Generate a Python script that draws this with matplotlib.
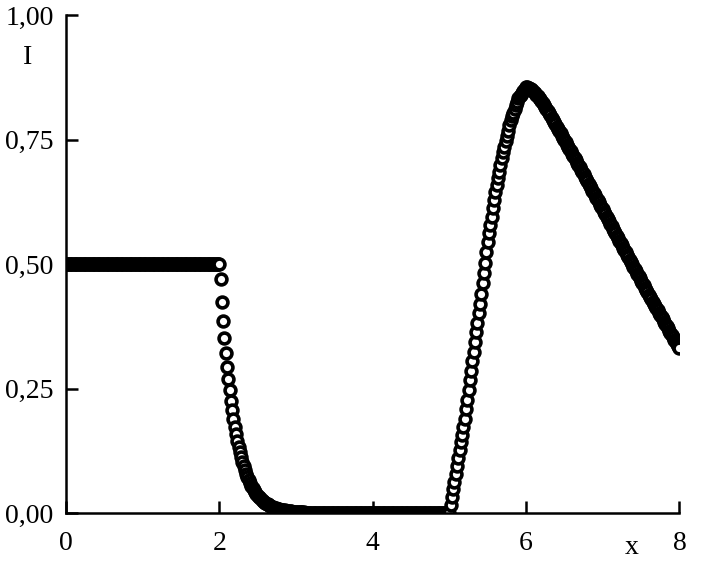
import numpy as np
import matplotlib
matplotlib.use("Agg")
from matplotlib import pyplot as plt

plt.rcParams['font.family'] = ['Liberation Serif', 'DejaVu Serif']
plt.rcParams['font.size'] = 20

# grid of the computed solution, step 1/60 on [0, 8]
x = np.arange(481) / 60.0

# x = 0 .. 2 : constant level
y_plateau = [0.50] * 121

# x = 2 + 1/60 .. 3.1 : fast decay
y_drop = [
    0.470, 0.425, 0.386, 0.351, 0.322, 0.294, 0.270, 0.247, 0.226, 0.207,
    0.189, 0.173, 0.159, 0.145, 0.133, 0.122, 0.112, 0.102, 0.094, 0.086,
    0.078, 0.072, 0.066, 0.060, 0.055, 0.050, 0.046, 0.042, 0.039, 0.035,
    0.032, 0.030, 0.027, 0.025, 0.023, 0.021, 0.019, 0.018, 0.016, 0.015,
    0.013, 0.012, 0.011, 0.010, 0.009, 0.009, 0.008, 0.007, 0.007, 0.006,
    0.006, 0.005, 0.005, 0.004, 0.004, 0.004, 0.003, 0.003, 0.003, 0.003,
    0.002, 0.002, 0.002, 0.002, 0.002, 0.002,
]

# x = 3.1 .. 5 : zero
y_zero = [0.0] * 114

# x = 5 + 1/60 .. 6 : rise to the peak
y_rise = [
    0.016, 0.032, 0.048, 0.063, 0.079, 0.095, 0.111, 0.127, 0.143, 0.158,
    0.174, 0.190, 0.209, 0.228, 0.247, 0.267, 0.286, 0.305, 0.324, 0.343,
    0.363, 0.382, 0.401, 0.420, 0.441, 0.462, 0.483, 0.503, 0.524, 0.545,
    0.562, 0.578, 0.595, 0.612, 0.628, 0.645, 0.658, 0.672, 0.685, 0.698,
    0.712, 0.725, 0.736, 0.747, 0.758, 0.768, 0.779, 0.790, 0.797, 0.804,
    0.811, 0.819, 0.826, 0.833, 0.837, 0.840, 0.844, 0.848, 0.851, 0.855,
]

# x = 6 + 1/60 .. 8 : fall after the peak
y_fall = [
    0.855, 0.854, 0.852, 0.851, 0.849, 0.846,
    0.843, 0.840, 0.837, 0.834, 0.831, 0.828,
    0.824, 0.820, 0.816, 0.811, 0.807, 0.803,
    0.799, 0.794, 0.790, 0.785, 0.781, 0.776,
    0.772, 0.767, 0.763, 0.758, 0.754, 0.749,
    0.745, 0.740, 0.736, 0.731, 0.727, 0.722,
    0.717, 0.713, 0.708, 0.703, 0.699, 0.694,
    0.689, 0.685, 0.680, 0.675, 0.671, 0.666,
    0.661, 0.657, 0.652, 0.647, 0.643, 0.638,
    0.633, 0.629, 0.624, 0.619, 0.615, 0.610,
    0.605, 0.600, 0.595, 0.591, 0.586, 0.581,
    0.576, 0.571, 0.566, 0.562, 0.557, 0.552,
    0.547, 0.543, 0.538, 0.533, 0.529, 0.524,
    0.519, 0.514, 0.509, 0.505, 0.500, 0.495,
    0.490, 0.486, 0.481, 0.476, 0.472, 0.467,
    0.462, 0.458, 0.453, 0.448, 0.444, 0.439,
    0.434, 0.430, 0.425, 0.420, 0.416, 0.411,
    0.407, 0.402, 0.398, 0.393, 0.389, 0.384,
    0.380, 0.375, 0.371, 0.366, 0.362, 0.357,
    0.353, 0.348, 0.344, 0.340, 0.335, 0.331,
]

y = np.array(y_plateau + y_drop + y_zero + y_rise + y_fall)

x_ticks = [0, 2, 4, 6, 8]
x_ticklabels = ['0', '2', '4', '6', '8']
y_ticks = [0.0, 0.25, 0.5, 0.75, 1.0]
y_ticklabels = ['0,00', '0,25', '0,50', '0,75', '1,00']

fig = plt.figure(figsize=(7.08, 5.63), dpi=100)
ax = fig.add_axes([0.0932, 0.0883, 0.8664, 0.8851])

ax.plot(x, y, 'o', markerfacecolor='white', markeredgecolor='black',
        markersize=7.8, markeredgewidth=2.6, linestyle='none')

ax.set_xlim(0, 8)
ax.set_ylim(0, 1)
ax.set_xticks(x_ticks)
ax.set_xticklabels(x_ticklabels)
ax.set_yticks(y_ticks)
ax.set_yticklabels(y_ticklabels)

for s in ['top', 'right']:
    ax.spines[s].set_visible(False)
for s in ['left', 'bottom']:
    ax.spines[s].set_linewidth(1.8)

ax.tick_params(axis='both', direction='in', length=8.5, width=1.8)
ax.tick_params(axis='x', pad=13)
ax.tick_params(axis='y', pad=9)

fig.text(28 / 708, 1 - 57 / 563, 'I', ha='center', va='center', fontsize=20)
fig.text(632 / 708, 1 - 548 / 563, 'x', ha='center', va='center', fontsize=20)

fig.savefig('out.png', dpi=100)
